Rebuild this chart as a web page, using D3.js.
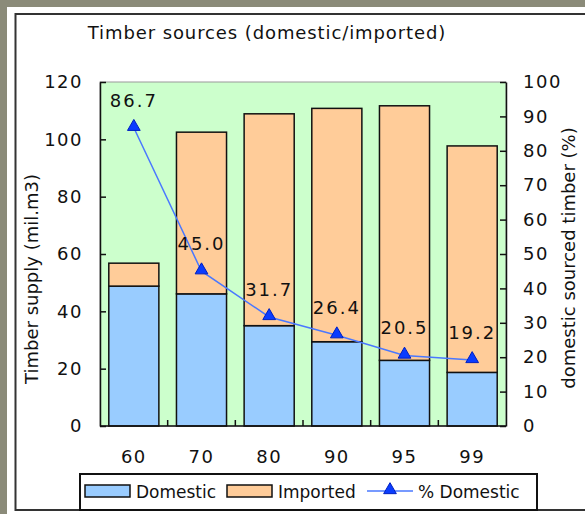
<!DOCTYPE html>
<html>
<head>
<meta charset="utf-8">
<script src="https://cdn.jsdelivr.net/npm/d3@7"></script>
<style>
  body { margin: 0; background: #8b8b79; }
  svg { display: block; }
  text { font-family: "DejaVu Sans", sans-serif; fill: #111; }
</style>
</head>
<body>
<div id="chart"></div>
<script>
// data
const years = ["60", "70", "80", "90", "95", "99"];
const domestic = [48.8, 46.1, 35.0, 29.4, 22.9, 18.7];
const imported = [8.0, 56.4, 73.9, 81.4, 88.8, 79.0];
const pctDomestic = [86.7, 45.0, 31.7, 26.4, 20.5, 19.2];
const leftTicks = [0, 20, 40, 60, 80, 100, 120];
const rightTicks = [0, 10, 20, 30, 40, 50, 60, 70, 80, 90, 100];

const width = 585, height = 514;
const margin = {top: 82, right: 79, bottom: 88, left: 100};

const svg = d3.select("#chart")
  .append("svg")
  .attr("width", width)
  .attr("height", height);

// white panel and its frame
svg.append("rect")
  .attr("x", 7).attr("y", 7)
  .attr("width", width).attr("height", height)
  .attr("fill", "#fff");
svg.append("rect")
  .attr("x", 15.5).attr("y", 14)
  .attr("width", 620).attr("height", 496)
  .attr("fill", "none")
  .attr("stroke", "#333")
  .attr("stroke-width", 2);

// title
svg.append("text")
  .attr("x", 267).attr("y", 39)
  .attr("text-anchor", "middle")
  .attr("font-size", "18px")
  .attr("letter-spacing", "0.9px")
  .text("Timber sources (domestic/imported)");

const x = d3.scaleBand()
  .domain(years)
  .range([margin.left, width - margin.right])
  .paddingInner(0.26)
  .paddingOuter(0.13);

const y = d3.scaleLinear()
  .domain([0, 120])
  .range([height - margin.bottom, margin.top]);

const y2 = d3.scaleLinear()
  .domain([0, 100])
  .range([height - margin.bottom, margin.top]);

// plot area
svg.append("rect")
  .attr("x", margin.left).attr("y", margin.top)
  .attr("width", width - margin.left - margin.right)
  .attr("height", height - margin.top - margin.bottom)
  .attr("fill", "#ccffcc")
  .attr("stroke", "#999")
  .attr("stroke-width", 1);

// stacked bars
const stack = years.map((yr, i) => ({year: yr, dom: domestic[i], imp: imported[i]}));

svg.append("g").selectAll("rect")
  .data(stack)
  .join("rect")
  .attr("x", (d) => x(d.year))
  .attr("y", (d) => y(d.dom))
  .attr("width", x.bandwidth())
  .attr("height", (d) => y(0) - y(d.dom))
  .attr("fill", "#99ccff")
  .attr("stroke", "#111")
  .attr("stroke-width", 1.5);

svg.append("g").selectAll("rect")
  .data(stack)
  .join("rect")
  .attr("x", (d) => x(d.year))
  .attr("y", (d) => y(d.dom + d.imp))
  .attr("width", x.bandwidth())
  .attr("height", (d) => y(d.dom) - y(d.dom + d.imp))
  .attr("fill", "#ffcc99")
  .attr("stroke", "#111")
  .attr("stroke-width", 1.5);

// axes, ticks pointing inward
const styleAxis = (g) => {
  g.select(".domain").attr("stroke", "#111").attr("stroke-width", 1.5);
  g.selectAll("line").attr("stroke", "#111").attr("stroke-width", 1.5);
  g.selectAll("text")
    .attr("font-size", "18px")
    .attr("font-family", "DejaVu Sans")
    .attr("letter-spacing", "1.5px")
    .attr("fill", "#111");
};

svg.append("g")
  .attr("transform", `translate(${margin.left},0)`)
  .call(d3.axisLeft(y).tickValues(leftTicks).tickSizeInner(-6).tickSizeOuter(0).tickPadding(17))
  .call(styleAxis);

svg.append("g")
  .attr("transform", `translate(${width - margin.right},0)`)
  .call(d3.axisRight(y2).tickValues(rightTicks).tickSizeInner(-6).tickSizeOuter(0).tickPadding(17))
  .call(styleAxis);

// bottom axis: line plus category separators
const xAxis = svg.append("g")
  .attr("transform", `translate(0,${height - margin.bottom})`);
xAxis.append("line")
  .attr("x1", margin.left).attr("x2", width - margin.right)
  .attr("stroke", "#111").attr("stroke-width", 1.5);
xAxis.selectAll(".sep")
  .data(years.slice(1))
  .join("line")
  .attr("class", "sep")
  .attr("x1", (d) => x(d) - x.step() * x.paddingInner() / 2)
  .attr("x2", (d) => x(d) - x.step() * x.paddingInner() / 2)
  .attr("y1", 0).attr("y2", -6)
  .attr("stroke", "#111").attr("stroke-width", 1.5);
xAxis.selectAll(".lbl")
  .data(years)
  .join("text")
  .attr("class", "lbl")
  .attr("x", (d) => x(d) + x.bandwidth() / 2)
  .attr("y", 37)
  .attr("text-anchor", "middle")
  .attr("font-size", "18px")
  .attr("letter-spacing", "1.5px")
  .text((d) => d);

// axis titles
svg.append("text")
  .attr("transform", "translate(38,279) rotate(-90)")
  .attr("text-anchor", "middle")
  .attr("font-size", "18px")
  .text("Timber supply (mil.m3)");
svg.append("text")
  .attr("transform", "translate(575,258) rotate(-90)")
  .attr("text-anchor", "middle")
  .attr("font-size", "18px")
  .text("domestic sourced timber (%)");

// % domestic line
const pts = years.map((yr, i) => ({year: yr, v: pctDomestic[i]}));
const line = d3.line()
  .x((d) => x(d.year) + x.bandwidth() / 2)
  .y((d) => y2(d.v));

svg.append("path")
  .datum(pts)
  .attr("d", line)
  .attr("fill", "none")
  .attr("stroke", "#4a78ff")
  .attr("stroke-width", 1.5);

const tri = d3.symbol().type(d3.symbolTriangle).size(70);
svg.append("g").selectAll("path")
  .data(pts)
  .join("path")
  .attr("d", tri)
  .attr("transform", (d) => `translate(${x(d.year) + x.bandwidth() / 2},${y2(d.v) - 1})`)
  .attr("fill", "#0a3cff")
  .attr("stroke", "#0020c0")
  .attr("stroke-width", 1);

svg.append("g").selectAll("text")
  .data(pts)
  .join("text")
  .attr("x", (d) => x(d.year) + x.bandwidth() / 2)
  .attr("y", (d) => y2(d.v) - 21)
  .attr("text-anchor", "middle")
  .attr("font-size", "18px")
  .attr("letter-spacing", "2px")
  .text((d) => d.v.toFixed(1));

// legend
const legend = svg.append("g");
legend.append("rect")
  .attr("x", 80).attr("y", 474)
  .attr("width", 457).attr("height", 36)
  .attr("fill", "#fff")
  .attr("stroke", "#111")
  .attr("stroke-width", 2);

const legendItems = [
  {label: "Domestic", color: "#99ccff", x: 85},
  {label: "Imported", color: "#ffcc99", x: 227}
];
legendItems.forEach((d) => {
  legend.append("rect")
    .attr("x", d.x).attr("y", 485)
    .attr("width", 45).attr("height", 12)
    .attr("fill", d.color)
    .attr("stroke", "#111")
    .attr("stroke-width", 1.5);
  legend.append("text")
    .attr("x", d.x + 51).attr("y", 498)
    .attr("font-size", "17px")
    .text(d.label);
});
legend.append("line")
  .attr("x1", 367).attr("x2", 413)
  .attr("y1", 491).attr("y2", 491)
  .attr("stroke", "#4a78ff").attr("stroke-width", 1.5);
legend.append("path")
  .attr("d", tri)
  .attr("transform", "translate(390,490)")
  .attr("fill", "#0a3cff")
  .attr("stroke", "#0020c0")
  .attr("stroke-width", 1);
legend.append("text")
  .attr("x", 418).attr("y", 498)
  .attr("font-size", "17px")
  .text("% Domestic");
</script>
</body>
</html>
